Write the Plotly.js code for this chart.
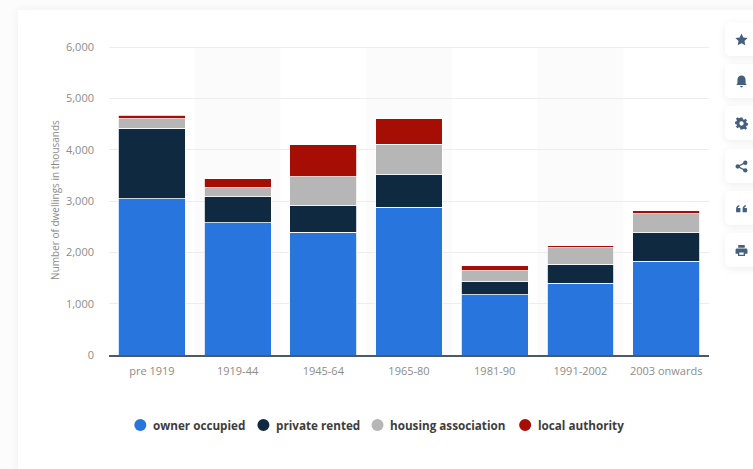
<!DOCTYPE html>
<html>
<head>
<meta charset="utf-8">
<script src="https://cdn.plot.ly/plotly-3.0.1.min.js"></script>
<style>
  html, body { margin: 0; padding: 0; width: 753px; height: 469px; overflow: hidden; background: #fcfcfc; }
  #card { position: absolute; left: 18px; top: 10px; width: 760px; height: 480px; background: #fff; box-shadow: 0 0 10px rgba(0,0,0,0.05); }
  #chart { position: absolute; left: 0; top: 0; width: 753px; height: 469px; }
  .tool { position: absolute; left: 725px; width: 40px; height: 34px; background: #fff; border-radius: 5px; box-shadow: 0 2px 8px rgba(0,0,0,0.07); }
  .tool svg { position: absolute; left: 10px; top: 11px; width: 13px; height: 13px; fill: #45607f; }
</style>
</head>
<body>
<div id="card"></div>
<div id="chart"></div>
<div class="tool" style="top:22px"><svg viewBox="0 0 24 24"><path d="M12 1l3.4 7.3 7.9 1-5.8 5.4 1.5 7.9-7-3.9-7 3.9 1.5-7.9L.7 9.3l7.9-1z"/></svg></div>
<div class="tool" style="top:64px"><svg viewBox="0 0 24 24"><path d="M12 1c-4.6 0-7.5 3.4-7.5 8v6L2.500 18.500h19L19.500 15V9c0-4.600-2.900-8-7.500-8zM9.500 20.500a2.500 2.500 0 0 0 5 0z"/></svg></div>
<div class="tool" style="top:106px"><svg viewBox="0 0 24 24"><path fill-rule="evenodd" d="M10 1h4l.6 3.100 2.200.9 2.600-1.800 2.800 2.800-1.800 2.600.9 2.200 3 .6v4l-3 .6-.9 2.200 1.800 2.600-2.800 2.800-2.600-1.800-2.200.9L14 23h-4l-.6-3.100-2.200-.9-2.600 1.800-2.800-2.800 1.800-2.600-.9-2.200-3-.6v-4l3-.6.9-2.200-1.800-2.600 2.800-2.800 2.600 1.800 2.200-.9zM12 8a4 4 0 1 0 0 8 4 4 0 0 0 0-8z"/></svg></div>
<div class="tool" style="top:149px"><svg viewBox="0 0 24 24"><circle cx="19" cy="5" r="4"/><circle cx="19" cy="19" r="4"/><circle cx="5" cy="12" r="4"/><path d="M5 12L19 5M5 12l14 7" stroke="#45607f" stroke-width="2.500" fill="none"/></svg></div>
<div class="tool" style="top:191px"><svg viewBox="0 0 24 24"><path d="M2 19v-6c0-3.800 2.100-6.400 6-7.400v2.600c-1.700.5-2.600 1.500-2.800 3H10v7.800zM14 19v-6c0-3.800 2.100-6.400 6-7.400v2.600c-1.700.5-2.600 1.500-2.800 3H22v7.800z"/></svg></div>
<div class="tool" style="top:233px"><svg viewBox="0 0 24 24"><path fill-rule="evenodd" d="M6 2h12v5H6zM3.500 8.500h17A2.500 2.500 0 0 1 23 11v7h-4.500v4h-13v-4H1v-7a2.500 2.500 0 0 1 2.500-2.500zM8 15.500V20h8v-4.500z"/></svg></div>
<script>
// Dwellings by construction period, thousands, split by tenure.
const periods = ["pre 1919", "1919-44", "1945-64", "1965-80", "1981-90", "1991-2002", "2003 onwards"];
const ownerOccupied = [3047, 2578, 2393, 2880, 1172, 1400, 1830];
const privateRented = [1367, 502, 517, 636, 260, 371, 553];
const housingAssociation = [186, 182, 567, 586, 214, 319, 371];
const localAuthority = [74, 170, 615, 498, 92, 39, 53];
const yTicks = [0, 1000, 2000, 3000, 4000, 5000, 6000];

const seriesNames = ["owner occupied", "private rented", "housing association", "local authority"];
const seriesValues = [ownerOccupied, privateRented, housingAssociation, localAuthority];
const seriesColors = ["#2875de", "#0f2a40", "#b6b6b6", "#a60d05"];

const W = 753, H = 469;
const margin = { l: 109.2, r: 44.3, t: 45.3, b: 114, pad: 0 };
const plotW = W - margin.l - margin.r;
const plotH = H - margin.t - margin.b;
const pxX = px => (px - margin.l) / plotW;
const pxY = py => (H - margin.b - py) / plotH;

const traces = seriesNames.map((name, i) => ({
  type: "bar",
  name: name,
  x: periods,
  y: seriesValues[i],
  marker: { color: seriesColors[i], line: { color: "#ffffff", width: 0.8 } },
  showlegend: false,
  hoverinfo: "x+y+name"
}));

// Faint bands behind every second period, up to the top gridline.
const shapes = [1, 3, 5].map(i => ({
  type: "rect", layer: "below",
  xref: "x", yref: "y",
  x0: i - 0.5, x1: i + 0.5, y0: 0, y1: 6000,
  fillcolor: "#fbfbfb", line: { width: 0 }
}));

// Legend row with round swatches.
const legendDots = [140.5, 263.500, 377.500, 525];
const legendText = [151, 274, 388, 536];
const legendY = 425;
const annotations = seriesNames.map((name, i) => ({
  xref: "paper", yref: "paper",
  x: pxX(legendText[i]), y: pxY(legendY),
  xanchor: "left", yanchor: "middle",
  text: "<b>" + name + "</b>",
  showarrow: false,
  font: { family: "Open Sans, sans-serif", size: 11.7, color: "#3d3d3d" }
}));
seriesNames.forEach((name, i) => {
  shapes.push({
    type: "circle",
    xref: "paper", yref: "paper",
    x0: pxX(legendDots[i] - 6), x1: pxX(legendDots[i] + 6),
    y0: pxY(legendY + 6), y1: pxY(legendY - 6),
    fillcolor: seriesColors[i], line: { width: 0 }
  });
});

const tickFont = { family: "Open Sans, sans-serif", size: 11, color: "#8c8c8c" };

const layout = {
  width: W, height: H,
  margin: margin,
  paper_bgcolor: "rgba(0,0,0,0)",
  plot_bgcolor: "rgba(0,0,0,0)",
  barmode: "stack",
  bargap: 0.22,
  showlegend: false,
  xaxis: {
    type: "category",
    tickfont: tickFont,
    ticks: "",
    ticklabelstandoff: 5,
    showgrid: false,
    showline: true, linecolor: "#4b5a66", linewidth: 1.5,
    zeroline: false,
    fixedrange: true
  },
  yaxis: {
    range: [0, 6040],
    tickmode: "array",
    tickvals: yTicks,
    tickformat: ",d",
    tickfont: tickFont,
    ticklabelstandoff: 14,
    ticks: "",
    showgrid: true, gridcolor: "#ededed", gridwidth: 1,
    zeroline: false,
    fixedrange: true,
    title: {
      text: "Number of dwellings in thousands",
      font: { family: "Open Sans, sans-serif", size: 10, color: "#8c8c8c" },
      standoff: 4
    }
  },
  shapes: shapes,
  annotations: annotations
};

Plotly.newPlot("chart", traces, layout, { displayModeBar: false, responsive: false });
</script>
</body>
</html>
